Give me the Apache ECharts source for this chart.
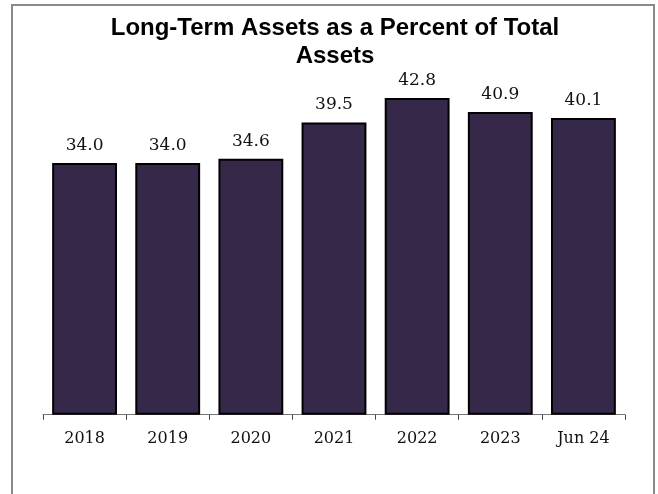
<!DOCTYPE html>
<html>
<head>
<meta charset="utf-8">
<script src="https://cdn.jsdelivr.net/npm/echarts@6/dist/echarts.min.js"></script>
<style>
  html, body { margin: 0; padding: 0; background: #fff; }
  #chart { width: 658px; height: 494px; }
</style>
</head>
<body>
<div id="chart"></div>
<script>
// Long-term assets as a share of total assets, year-end values plus June 2024
const categories = ['2018', '2019', '2020', '2021', '2022', '2023', 'Jun 24'];
const values = [34.0, 34.0, 34.6, 39.5, 42.8, 40.9, 40.1];
const titleText = 'Long-Term Assets as a Percent of Total\nAssets';

const chart = echarts.init(document.getElementById('chart'), null, { renderer: 'canvas' });

chart.setOption({
  animation: false,
  backgroundColor: '#ffffff',
  graphic: [
    {
      // outer frame
      type: 'rect',
      shape: { x: 12, y: 5, width: 642, height: 520 },
      style: { fill: 'none', stroke: '#8a8a8a', lineWidth: 2 },
      silent: true,
      z: -1
    },
    {
      // chart title, centred inside the frame
      type: 'text',
      x: 335,
      y: 14,
      style: {
        text: titleText,
        align: 'center',
        verticalAlign: 'top',
        fontFamily: 'Liberation Sans, Arial, sans-serif',
        fontWeight: 'bold',
        fontSize: 24,
        lineHeight: 28,
        fill: '#000'
      },
      silent: true
    }
  ],
  grid: { left: 43, right: 33, top: 81.7, bottom: 79.3 },
  xAxis: {
    type: 'category',
    data: categories,
    axisLine: { lineStyle: { color: '#777', width: 1 } },
    axisTick: { show: true, length: 5, lineStyle: { color: '#444' } },
    axisLabel: {
      fontFamily: 'DejaVu Serif, Georgia, serif',
      fontSize: 16,
      color: '#111',
      margin: 16
    }
  },
  yAxis: {
    type: 'value',
    min: 0,
    max: 45,
    show: false,
    splitLine: { show: false }
  },
  series: [{
    type: 'bar',
    data: values,
    barCategoryGap: '22%',
    itemStyle: {
      color: '#362848',
      borderColor: '#000',
      borderWidth: 2
    },
    label: {
      show: true,
      position: 'top',
      distance: 9,
      formatter: p => p.value.toFixed(1),
      fontFamily: 'DejaVu Serif, Georgia, serif',
      fontSize: 17,
      color: '#111'
    }
  }]
});
</script>
</body>
</html>
